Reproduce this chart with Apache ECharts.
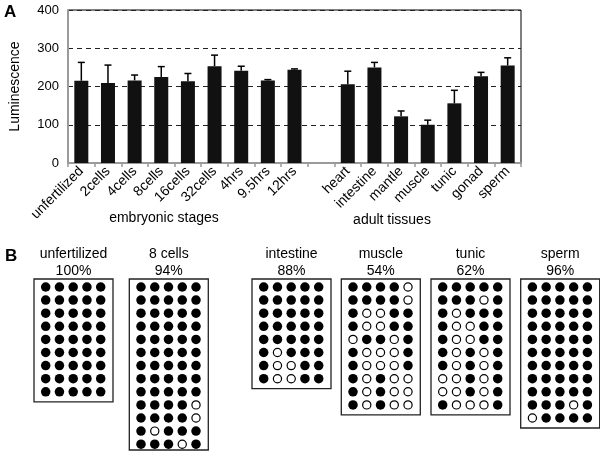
<!DOCTYPE html>
<html>
<head>
<meta charset="utf-8">
<script src="https://cdn.jsdelivr.net/npm/echarts@6/dist/echarts.min.js"></script>
<style>
html,body{margin:0;padding:0;background:#fff}
#wrap{position:relative;width:600px;height:460px;background:#fff}
#a,#b{position:absolute;left:0;top:0;width:600px;height:460px}
#b{pointer-events:none}
</style>
</head>
<body>
<div id="wrap"><div id="a"></div><div id="b"></div></div>
<script>
// ---- Panel A data ----
const categories = ['unfertilized','2cells','4cells','8cells','16cells','32cells','4hrs','9.5hrs','12hrs','',
  'heart','intestine','mantle','muscle','tunic','gonad','sperm'];
const means = [215,209,216,225,214,253,241,216,244,null,206,250,122,100,156,227,255];
const errors = [48,47,14,27,20,29,12,2,2,null,34,13,14,12,34,10,20];
const yTicks = [0,100,200,300,400];
const groupLabels = ['embryonic stages','adult tissues'];

// ---- Panel B data ----
const sampleNames = ['unfertilized','8 cells','intestine','muscle','tunic','sperm'];
const samplePercents = ['100%','94%','88%','54%','62%','96%'];
const sampleRows = [
  ['11111','11111','11111','11111','11111','11111','11111','11111','11111'],
  ['11111','11111','11111','11111','11111','11111','11111','11111','11111','11110','11110','10111','11101'],
  ['11111','11111','11111','11111','11111','10111','10011','10011'],
  ['11110','11110','10011','10011','01101','10001','10001','10100','10100','10100'],
  ['11111','11101','10111','10011','10011','10101','10101','00101','00101','10001'],
  ['11111','11111','11111','11111','11111','11111','11111','11111','11111','11101','01111']
];

const FONT = 'Liberation Sans, Arial, Helvetica, sans-serif';

// ---------- Panel A chart ----------
const chartA = echarts.init(document.getElementById('a'), null, {renderer: 'canvas'});
chartA.setOption({
  animation: false,
  textStyle: {fontFamily: FONT},
  grid: [{left: 62, top: 10, width: 459, height: 153, show: true, borderColor: '#000', borderWidth: 1}],
  xAxis: [{
    type: 'category', data: categories,
    axisLine: {lineStyle: {color: '#9a9a9a', width: 2}},
    axisTick: {show: true, length: 4, lineStyle: {color: '#999', width: 1.5}},
    axisLabel: {rotate: 45, interval: 0, fontSize: 14, color: '#000', margin: 6, fontFamily: FONT},
    splitLine: {show: false}
  }],
  yAxis: [{
    type: 'value', min: yTicks[0], max: yTicks[yTicks.length - 1], interval: yTicks[1] - yTicks[0],
    name: 'Luminescence', nameLocation: 'middle', nameGap: 46, nameRotate: 90,
    nameTextStyle: {fontSize: 14, color: '#000'},
    axisLine: {show: true, lineStyle: {color: '#9a9a9a', width: 2}},
    axisLabel: {fontSize: 13, color: '#000', margin: 9},
    splitLine: {show: true, lineStyle: {color: '#222', type: [5, 4], width: 1.2}}
  }],
  series: [
    {type: 'bar', data: means, barWidth: 14, itemStyle: {color: '#111'}},
    {
      type: 'custom', z: 5,
      data: means.map((m, i) => m == null ? null : [i, m, errors[i]]).filter(d => d),
      renderItem: function (params, api) {
        const x = api.value(0), m = api.value(1), e = api.value(2);
        const base = api.coord([x, m]);
        const top = api.coord([x, m + e]);
        const st = {stroke: '#000', lineWidth: 1.5};
        return {type: 'group', children: [
          {type: 'line', shape: {x1: base[0], y1: base[1], x2: top[0], y2: top[1]}, style: st},
          {type: 'line', shape: {x1: top[0] - 3.5, y1: top[1], x2: top[0] + 3.5, y2: top[1]}, style: st}
        ]};
      }
    }
  ]
});

// ---------- Panel B chart (overlay, also holds the free texts) ----------
const chartB = echarts.init(document.getElementById('b'), null, {renderer: 'canvas'});
const grids = [], xAxes = [], yAxes = [], series = [];
const graphics = [
  {type: 'text', left: 4, top: 4, style: {text: 'A', font: 'bold 17px ' + FONT, fill: '#000'}},
  {type: 'text', x: 164, y: 218, style: {text: groupLabels[0], font: '14px ' + FONT, fill: '#000', textAlign: 'center', textVerticalAlign: 'middle'}},
  {type: 'text', x: 392, y: 220, style: {text: groupLabels[1], font: '14px ' + FONT, fill: '#000', textAlign: 'center', textVerticalAlign: 'middle'}},
  {type: 'text', left: 5, top: 248, style: {text: 'B', font: 'bold 17px ' + FONT, fill: '#000'}}
];
const boxLefts = [34, 129.3, 252, 341.3, 431, 520.7];
const boxTop = 279, boxW = 79, rowPx = 13.1, colPx = 13.75, topPad = 8, bottomPad = 10, colPad = 11.7;
sampleRows.forEach((rows, k) => {
  let h = (rows.length - 1) * rowPx + topPad + bottomPad;
  if (boxTop + h > 450) h = 450 - boxTop;
  grids.push({left: boxLefts[k], top: boxTop, width: boxW, height: h, show: true, borderColor: '#222', borderWidth: 1.3, backgroundColor: '#fff'});
  const xmin = -colPad / colPx;
  xAxes.push({type: 'value', gridIndex: k, min: xmin, max: xmin + boxW / colPx, show: false});
  const ymin = -topPad / rowPx;
  yAxes.push({type: 'value', gridIndex: k, min: ymin, max: ymin + h / rowPx, inverse: true, show: false});
  const filled = [], open = [];
  rows.forEach((r, ri) => { r.split('').forEach((c, ci) => { (c === '1' ? filled : open).push([ci, ri]); }); });
  series.push({type: 'scatter', xAxisIndex: k, yAxisIndex: k, data: filled, symbol: 'circle', symbolSize: 9.5,
    itemStyle: {color: '#000', opacity: 1}, silent: true});
  series.push({type: 'scatter', xAxisIndex: k, yAxisIndex: k, data: open, symbol: 'circle', symbolSize: 8.2,
    itemStyle: {color: '#fff', borderColor: '#000', borderWidth: 1.2, opacity: 1}, silent: true});
  const cx = boxLefts[k] + boxW / 2;
  graphics.push({type: 'text', x: cx, y: 254, style: {text: sampleNames[k], font: '14px ' + FONT, fill: '#000', textAlign: 'center', textVerticalAlign: 'middle'}});
  graphics.push({type: 'text', x: cx, y: 271.5, style: {text: samplePercents[k], font: '14px ' + FONT, fill: '#000', textAlign: 'center', textVerticalAlign: 'middle'}});
});
chartB.setOption({
  animation: false,
  backgroundColor: 'transparent',
  textStyle: {fontFamily: FONT},
  grid: grids, xAxis: xAxes, yAxis: yAxes, series: series, graphic: graphics
});
</script>
</body>
</html>
